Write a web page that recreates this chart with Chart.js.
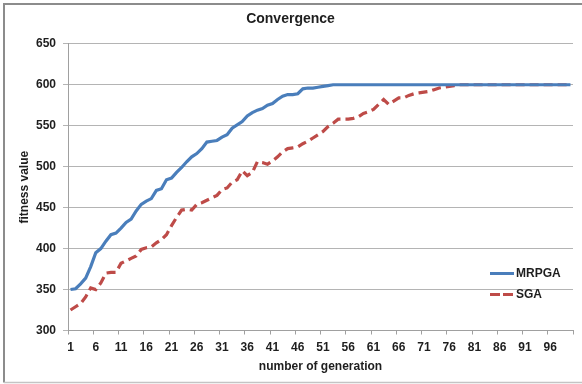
<!DOCTYPE html>
<html>
<head>
<meta charset="utf-8">
<script src="https://cdn.jsdelivr.net/npm/chart.js@4.4.1/dist/chart.umd.min.js"></script>
<style>
  html, body { margin: 0; padding: 0; background: #fff; }
  canvas { display: block; }
</style>
</head>
<body>
<canvas id="chart" width="582" height="384"></canvas>
<script>
// generation number on the x axis
const generations = [
  1, 2, 3, 4, 5, 6, 7, 8, 9, 10, 11, 12, 13, 14, 15, 16, 17, 18, 19, 20,
  21, 22, 23, 24, 25, 26, 27, 28, 29, 30, 31, 32, 33, 34, 35, 36, 37, 38, 39, 40,
  41, 42, 43, 44, 45, 46, 47, 48, 49, 50, 51, 52, 53, 54, 55, 56, 57, 58, 59, 60,
  61, 62, 63, 64, 65, 66, 67, 68, 69, 70, 71, 72, 73, 74, 75, 76, 77, 78, 79, 80,
  81, 82, 83, 84, 85, 86, 87, 88, 89, 90, 91, 92, 93, 94, 95, 96, 97, 98, 99, 100
]
const xTickLabels = [1, 6, 11, 16, 21, 26, 31, 36, 41, 46, 51, 56, 61, 66, 71, 76, 81, 86, 91, 96]

const mrpga = [
  350, 351, 357, 364, 378, 395, 400, 409, 417, 419,
  425, 432, 436, 446, 454, 458, 461, 471, 473, 484,
  486, 493, 499, 506, 512, 516, 522, 530, 531, 532,
  536, 539, 547, 551, 555, 562, 566, 569, 571, 575,
  577, 582, 586, 588, 588, 589, 595, 596, 596, 597,
  598, 599, 600, 600, 600, 600, 600, 600, 600, 600,
  600, 600, 600, 600, 600, 600, 600, 600, 600, 600,
  600, 600, 600, 600, 600, 600, 600, 600, 600, 600,
  600, 600, 600, 600, 600, 600, 600, 600, 600, 600,
  600, 600, 600, 600, 600, 600, 600, 600, 600, 600
]
const sga = [
  325, 329, 333, 341, 352, 350, 358, 370, 371, 371,
  382, 385, 388, 391, 399, 401, 402, 407, 411, 417,
  428, 438, 447, 448, 447, 454, 456, 459, 462, 465,
  472, 474, 481, 484, 495, 489, 493, 506, 505, 503,
  507, 512, 518, 522, 523, 524, 528, 531, 535, 539,
  543, 549, 553, 558, 558, 558, 559, 561, 565, 567,
  570, 576, 582, 576, 580, 584, 584, 587, 589, 590,
  591, 592, 594, 596, 597, 598, 599, 600, 600, 600,
  600, 600, 600, 600, 600, 600, 600, 600, 600, 600,
  600, 600, 600, 600, 600, 600, 600, 600, 600, 600
]

const FONT = '"Liberation Sans", Arial, sans-serif'
const TEXT = '#1e1e1e'
const GRID = '#b4b4b4'
const AXIS = '#a0a0a0'

// white page; grey frame on top/left, faint one at the bottom, open on the right
const framePlugin = {
  id: 'frame',
  beforeDraw(chart) {
    const ctx = chart.ctx
    const w = chart.width, h = chart.height
    ctx.save()
    ctx.fillStyle = '#fff'
    ctx.fillRect(0, 0, w, h)
    ctx.strokeStyle = '#8c8c8c'
    ctx.lineWidth = 2
    ctx.beginPath()
    ctx.moveTo(4, h - 1.5)
    ctx.lineTo(4, 4)
    ctx.lineTo(w, 4)
    ctx.stroke()
    ctx.strokeStyle = '#c4c4c4'
    ctx.lineWidth = 1.5
    ctx.beginPath()
    ctx.moveTo(4, h - 1.5)
    ctx.lineTo(w, h - 1.5)
    ctx.stroke()
    ctx.restore()
  }
}

// legend sits inside the plot, lower right, like the Excel one
const cornerLegend = {
  id: 'cornerLegend',
  afterDraw(chart) {
    const ctx = chart.ctx
    const area = chart.chartArea
    ctx.save()
    ctx.font = 'bold 12px ' + FONT
    ctx.textBaseline = 'middle'
    chart.data.datasets.forEach((ds, i) => {
      const y = area.bottom - 57 + i * 21
      const x = area.right - 83
      ctx.strokeStyle = ds.borderColor
      ctx.lineWidth = 3
      ctx.setLineDash(i ? [10, 3] : [])
      ctx.beginPath()
      ctx.moveTo(x, y)
      ctx.lineTo(x + 24, y)
      ctx.stroke()
      ctx.fillStyle = TEXT
      ctx.fillText(ds.label, x + 26, y)
    })
    ctx.restore()
  }
}

new Chart(document.getElementById('chart'), {
  type: 'line',
  data: {
    labels: generations,
    datasets: [
      {
        label: 'MRPGA',
        data: mrpga,
        borderColor: '#4a7ebb',
        borderWidth: 3.2,
        pointRadius: 0,
        tension: 0,
      },
      {
        label: 'SGA',
        data: sga,
        borderColor: '#be4b48',
        borderWidth: 3.2,
        borderDash: [9, 5],
        pointRadius: 0,
        tension: 0,
      },
    ]
  },
  options: {
    responsive: false,
    animation: false,
    layout: { padding: { left: 8, right: 9, top: 0, bottom: 0 } },
    plugins: {
      legend: { display: false },
      tooltip: { enabled: false },
      title: {
        display: true,
        text: 'Convergence',
        color: TEXT,
        font: { family: FONT, size: 14, weight: 'bold' },
        padding: { top: 11, bottom: 16 },
      },
    },
    scales: {
      x: {
        type: 'category',
        offset: true,
        afterFit: (scale) => { scale.height = 53.5 },
        grid: {
          offset: true,
          drawOnChartArea: false,
          drawTicks: true,
          tickLength: 4,
          color: (c) => (c.index === undefined || c.index % 5 === 0) ? AXIS : 'rgba(0,0,0,0)',
        },
        border: { color: AXIS, width: 1 },
        ticks: {
          autoSkip: false,
          maxRotation: 0,
          padding: 6,
          color: TEXT,
          font: { family: FONT, size: 12, weight: 'bold' },
          callback: function (value, index) {
            const g = generations[index]
            return xTickLabels.includes(g) ? String(g) : ''
          },
        },
        title: {
          display: true,
          text: 'number of generation',
          color: TEXT,
          font: { family: FONT, size: 12, weight: 'bold' },
          padding: { top: 0, bottom: 10 },
        },
      },
      y: {
        min: 300,
        max: 650,
        afterFit: (scale) => { scale.width = 60 },
        ticks: {
          stepSize: 50,
          padding: 7,
          color: TEXT,
          font: { family: FONT, size: 12, weight: 'bold' },
        },
        grid: { color: GRID, tickLength: 5 },
        border: { color: AXIS, width: 1 },
        title: {
          display: true,
          text: 'fitness value',
          color: TEXT,
          font: { family: FONT, size: 12, weight: 'bold' },
          padding: { top: 9, bottom: 0 },
        },
      },
    },
  },
  plugins: [framePlugin, cornerLegend],
})
</script>
</body>
</html>
